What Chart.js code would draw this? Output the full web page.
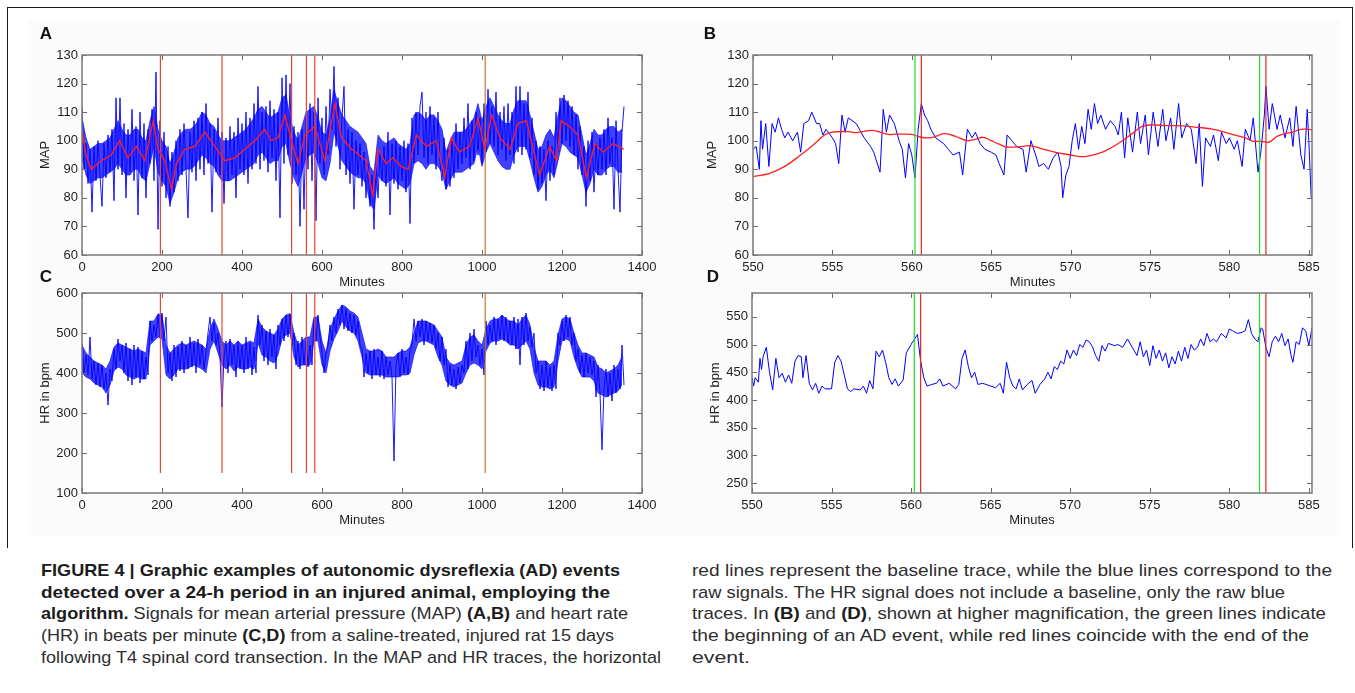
<!DOCTYPE html>
<html>
<head>
<meta charset="utf-8">
<script src="https://cdn.jsdelivr.net/npm/chart.js@4"></script>
<style>
  html, body { margin:0; padding:0; background:#fff; }
  body { width:1355px; height:693px; position:relative; overflow:hidden; }
  #frame { position:absolute; left:7px; top:7px; width:1344px; height:540px; border:1.5px solid #1a1a1a; border-bottom:none; }
  #tint { position:absolute; left:28px; top:20px; width:1312px; height:516px; background:#fbfbfb; }
  canvas { position:absolute; }
  .plab { position:absolute; font-family:'Liberation Sans', Arial, sans-serif; font-weight:bold; font-size:17px; color:#111; transform:translate(-50%,-50%); }
  .ln { position:absolute; white-space:nowrap; font-family:'Liberation Sans Narrow','Liberation Sans',Arial,sans-serif; font-size:17px; line-height:22px; color:#2e2e2e; transform-origin:0 50%; }
  .ln b { color:#1c1c1c; }
</style>
</head>
<body>
<div id="tint"></div>
<div id="frame"></div>
<canvas id="cA"></canvas>
<canvas id="cB"></canvas>
<canvas id="cC"></canvas>
<canvas id="cD"></canvas>
<div class="plab" style="left:46px;top:34px">A</div>
<div class="plab" style="left:710px;top:34px">B</div>
<div class="plab" style="left:46px;top:277px">C</div>
<div class="plab" style="left:713px;top:277px">D</div>

<div class="ln" style="left:41px;top:560px" data-w="579"><b>FIGURE 4 | Graphic examples of autonomic dysreflexia (AD) events</b></div>
<div class="ln" style="left:41px;top:582px" data-w="569"><b>detected over a 24-h period in an injured animal, employing the</b></div>
<div class="ln" style="left:41px;top:603px" data-w="587"><b>algorithm.</b> Signals for mean arterial pressure (MAP) <b>(A,B)</b> and heart rate</div>
<div class="ln" style="left:41px;top:625px" data-w="573">(HR) in beats per minute <b>(C,D)</b> from a saline-treated, injured rat 15 days</div>
<div class="ln" style="left:41px;top:647px" data-w="620">following T4 spinal cord transection. In the MAP and HR traces, the horizontal</div>
<div class="ln" style="left:692px;top:560px" data-w="640">red lines represent the baseline trace, while the blue lines correspond to the</div>
<div class="ln" style="left:692px;top:582px" data-w="593">raw signals. The HR signal does not include a baseline, only the raw blue</div>
<div class="ln" style="left:692px;top:603px" data-w="634">traces. In <b>(B)</b> and <b>(D)</b>, shown at higher magnification, the green lines indicate</div>
<div class="ln" style="left:692px;top:625px" data-w="617">the beginning of an AD event, while red lines coincide with the end of the</div>
<div class="ln" style="left:692px;top:647px" data-w="58">event.</div>

<script>
// ---------------- DATA ----------------
// Panel A: MAP over 24 h, raw trace sampled every 5 minutes
const aStepMinutes = 5;
const aMap = [
112, 90, 99, 85, 97, 75, 98, 86, 100, 88,
77, 99, 87, 102, 89, 104, 79, 115, 90, 115,
88, 106, 80, 104, 89, 111, 86, 105, 74, 110,
87, 106, 80, 104, 92, 111, 86, 124, 69, 107,
84, 103, 80, 98, 77, 96, 82, 100, 86, 104,
88, 106, 90, 73, 103, 89, 107, 86, 108, 90,
110, 88, 113, 92, 106, 75, 104, 89, 108, 88,
103, 78, 101, 86, 105, 88, 103, 80, 108, 90,
106, 88, 110, 85, 108, 90, 113, 92, 119, 90,
110, 93, 112, 89, 114, 94, 111, 86, 110, 73,
122, 92, 123, 95, 120, 85, 105, 88, 103, 70,
104, 76, 108, 90, 113, 86, 110, 72, 115, 92,
108, 88, 112, 95, 118, 104, 126, 98, 115, 90,
108, 119, 88, 104, 85, 103, 76, 100, 88, 99,
84, 96, 80, 92, 77, 88, 69, 92, 80, 96,
86, 98, 84, 103, 74, 99, 85, 100, 83, 98,
86, 100, 82, 99, 71, 108, 92, 110, 95, 112,
117, 94, 110, 92, 112, 95, 108, 90, 110, 92,
86, 101, 83, 97, 84, 100, 87, 106, 90, 103,
92, 108, 94, 113, 90, 107, 93, 110, 95, 108,
92, 113, 96, 118, 99, 112, 98, 117, 95, 110,
97, 112, 93, 113, 95, 110, 92, 119, 96, 119,
95, 113, 97, 117, 94, 108, 88, 100, 83, 98,
85, 97, 79, 100, 86, 98, 88, 110, 96, 115,
99, 116, 100, 114, 98, 112, 95, 109, 90, 105,
88, 98, 77, 100, 86, 103, 82, 99, 88, 101,
90, 104, 88, 108, 92, 101, 76, 107, 90, 75,
103, 112
];
// Panel A: dense core of the raw trace (upper / lower edge), every 10 minutes
const aBandStepMinutes = 10;
const aBandHi = [
108,101,97,98,99,99,100,101,104,107,
104,102,102,104,104,101,100,107,112,104,
100,98,92,96,101,103,104,104,105,107,
110,109,106,105,102,100,100,100,101,102,
103,104,106,108,111,112,110,108,109,110,
115,116,108,103,100,105,110,111,112,108,
103,102,108,118,113,109,107,105,104,103,
101,99,91,89,102,100,99,100,101,99,
98,97,99,109,110,109,107,109,109,107,
104,96,100,103,103,103,104,106,108,113,
107,112,115,112,109,107,106,106,111,114,
114,114,109,103,97,98,102,104,101,109,
115,114,112,110,109,102,95,99,104,102,
102,104,105,105,103,104
];
const aBandLo = [
94,88,85,86,87,87,88,89,90,92,
90,88,88,90,90,87,86,92,98,89,
86,84,78,82,87,89,90,90,91,93,
95,94,92,91,88,86,86,86,87,88,
89,90,91,92,95,96,94,92,93,93,
98,99,92,87,84,89,94,95,96,92,
87,86,92,103,98,93,91,89,88,87,
87,85,78,76,88,86,85,86,87,85,
84,83,85,92,93,92,90,92,92,91,
89,83,86,89,89,89,90,91,92,98,
91,96,99,96,93,91,90,90,95,98,
98,98,93,87,82,84,88,90,87,93,
99,98,96,95,94,88,82,85,90,88,
88,90,91,91,89,89
];
// Panel A: baseline (red) trace
const aBaseMinutes = [0,10,23,48,73,94,115,136,157,178,190,207,224,236,257,282,307,332,357,382,407,432,457,473,490,507,524,540,557,582,607,632,649,674,693,710,727,740,760,777,798,815,836,861,886,907,923,944,969,990,1007,1024,1045,1070,1090,1111,1128,1144,1169,1186,1198,1219,1240,1261,1282,1303,1328,1355];
const aBaseMap = [104,95,90,93,95,100,94,98,93,107,97,93,83,92,97,98,103,98,93,94,97,100,104,100,101,109,100,92,102,105,93,113,101,97,95,93,81,97,92,94,91,90,102,98,100,87,101,96,98,108,97,109,101,97,106,107,97,88,98,93,107,105,102,87,99,96,99,97];

// Panel C: HR over 24 h, raw trace sampled every 5 minutes
const cStepMinutes = 5;
const cHr = [
475, 400, 445, 395, 490, 385, 430, 370, 425, 365,
420, 360, 400, 320, 410, 380, 460, 410, 485, 430,
470, 400, 475, 380, 460, 370, 470, 390, 465, 375,
455, 385, 440, 395, 530, 480, 520, 490, 545, 490,
550, 480, 540, 400, 450, 380, 470, 390, 465, 405,
480, 400, 470, 410, 490, 415, 475, 400, 485, 420,
470, 410, 450, 500, 540, 480, 525, 470, 500, 440,
315, 440, 480, 400, 485, 420, 470, 390, 480, 410,
470, 400, 490, 410, 475, 395, 465, 400, 545, 470,
520, 430, 505, 420, 510, 440, 495, 410, 520, 470,
535, 480, 545, 490, 548, 470, 500, 420, 480, 410,
490, 420, 480, 415, 470, 420, 535, 480, 545, 490,
450, 400, 450, 470, 520, 480, 540, 500, 560, 520,
570, 510, 560, 505, 550, 500, 545, 495, 530, 470,
460, 390, 450, 400, 455, 385, 460, 395, 440, 390,
455, 385, 440, 395, 430, 390, 180, 420, 450, 390,
460, 400, 440, 395, 455, 470, 535, 480, 530, 490,
535, 470, 530, 480, 525, 475, 520, 460, 500, 430,
490, 420, 460, 365, 420, 370, 410, 360, 415, 375,
420, 400, 480, 410, 500, 430, 510, 440, 470, 420,
460, 395, 530, 470, 520, 480, 540, 470, 535, 485,
545, 480, 540, 475, 530, 470, 540, 460, 535, 420,
540, 470, 550, 480, 515, 465, 500, 400, 430, 360,
420, 355, 430, 365, 415, 355, 420, 360, 500, 470,
530, 480, 545, 490, 540, 470, 500, 430, 460, 400,
445, 390, 450, 400, 440, 395, 430, 340, 420, 350,
208, 360, 410, 340, 400, 330, 420, 350, 410, 360,
470, 370
];
// Panel C: dense core of the HR trace, every 10 minutes
const cBandStepMinutes = 10;
const cBandHi = [
470,450,440,430,425,420,410,430,465,475,
470,465,460,455,460,455,450,530,530,548,
545,470,450,460,470,475,470,475,480,475,
470,460,510,535,510,480,470,480,470,480,
470,475,480,475,535,515,505,500,495,510,
535,545,548,500,470,480,490,490,540,540,
480,450,510,535,555,570,565,555,550,540,
500,460,455,455,460,455,440,440,440,450,
455,455,465,500,530,530,530,525,520,505,
490,440,425,420,425,430,470,490,495,480,
470,510,530,535,535,545,535,530,530,520,
535,545,520,465,430,430,430,420,430,495,
535,540,535,500,470,450,450,445,440,415,
410,400,405,410,420,440
];
const cBandLo = [
400,390,385,375,370,365,350,370,405,415,
410,395,390,385,390,385,385,470,480,490,
485,395,385,395,410,410,410,415,420,415,
410,400,460,480,450,420,410,420,405,415,
410,410,415,410,475,445,440,430,425,445,
485,495,500,440,415,420,420,420,480,480,
420,400,455,485,505,530,515,505,500,480,
440,400,395,395,395,395,390,390,390,390,
395,395,400,445,475,480,480,475,470,440,
420,380,370,365,370,375,400,420,425,420,
410,455,475,480,480,485,480,470,470,460,
470,480,460,400,370,365,365,360,365,430,
480,485,480,440,410,390,390,390,380,350,
345,340,345,350,355,370
];

// AD event markers on the 24-h traces (minutes)
const eventMinutes = [196, 350, 524, 561, 582, 1008];
const eventSpanMap = [60, 130];
const eventSpanHr = [150, 600];

// Panel B: MAP, 550-585 min
const bMinutes = [
550.0,550.2,550.4,550.5,550.6,550.8,551.0,551.2,551.4,551.6,
551.8,552.0,552.2,552.5,552.8,553.0,553.2,553.5,553.7,554.0,
554.2,554.4,554.6,555.0,555.2,555.4,555.6,555.8,556.0,556.5,
557.0,557.4,557.6,558.0,558.2,558.4,558.6,558.9,559.2,559.4,
559.6,559.8,560.0,560.2,560.4,560.6,560.8,561.0,561.2,561.5,
562.0,562.3,562.6,563.0,563.2,563.5,563.8,564.0,564.3,564.6,
565.0,565.3,565.5,565.8,566.0,566.3,566.6,567.0,567.2,567.5,
567.8,568.0,568.3,568.6,568.9,569.2,569.4,569.5,569.7,569.9,
570.1,570.3,570.5,570.7,570.9,571.1,571.3,571.5,571.7,571.9,
572.2,572.5,572.8,573.0,573.2,573.4,573.6,573.9,574.2,574.4,
574.7,574.9,575.2,575.5,575.8,576.0,576.3,576.5,576.8,577.0,
577.3,577.6,577.9,578.1,578.3,578.5,578.8,579.0,579.3,579.5,
579.8,580.0,580.3,580.5,580.8,581.0,581.3,581.5,581.8,582.0,
582.2,582.3,582.5,582.7,583.0,583.2,583.5,583.8,584.0,584.2,
584.5,584.7,584.9,585.0,585.15
];
const bMap = [
97,98,90,107,97,106,91,106,103,108,
104,101,103,100,103,96,106,107,110,106,
106,102,104,101,99,92,109,103,108,106,
101,98,96,89,111,103,109,106,100,97,
87,99,95,87,104,113,109,107,104,101,
99,97,95,96,88,104,101,103,99,97,
96,95,92,88,102,100,98,97,89,100,
95,91,92,90,94,96,91,80,88,91,
100,106,97,105,99,111,104,113,106,109,
104,107,105,102,110,94,108,96,110,99,
109,95,110,98,111,100,108,97,113,101,
106,104,92,106,84,101,98,102,93,103,
99,101,97,100,91,104,100,108,89,97,
109,119,104,113,104,109,101,108,98,112,
95,90,111,100,80
];
const bBaseMinutes = [550,551,552,553,554,554.5,555,556,556.5,557,557.5,558,558.5,559,560,560.5,561,561.5,562,562.5,563,563.5,564,564.5,565,565.5,566,567,567.5,568,569,570,570.5,571,572,573,574,574.5,575,576,577,578,579,580,581,581.5,582,582.5,583,583.5,584,584.5,585,585.2];
const bBaseMap = [87.5,88.5,91,95,99.5,102,103,103.2,102.8,103.3,103.6,103,102.2,102.3,102.2,101.3,101,101.5,102.5,102,101,100,100.5,101.2,100,98.8,97.8,98,98.3,97.5,96,95,94.5,94.5,96,99,103,105,105.5,105.3,105.2,104.7,104,102.5,101,99.8,99.8,99.5,101.5,102.5,103,104,104,103.8];

// Panel D: HR, 550-585 min
const dMinutes = [
550.0,550.1,550.2,550.4,550.5,550.6,550.7,550.9,551.1,551.3,
551.5,551.7,551.9,552.1,552.3,552.5,552.7,552.9,553.1,553.2,
553.4,553.6,553.8,554.0,554.2,554.4,554.6,555.0,555.2,555.4,
555.6,555.8,556.0,556.2,556.4,556.8,557.0,557.2,557.4,557.6,
557.8,558.0,558.2,558.4,558.6,558.8,559.0,559.2,559.5,559.7,
560.0,560.1,560.4,560.6,560.8,561.0,561.3,561.6,561.8,562.0,
562.4,562.8,563.0,563.2,563.4,563.6,563.8,564.0,564.2,564.5,
565.0,565.3,565.6,565.8,566.0,566.2,566.4,566.6,566.8,567.0,
567.3,567.6,567.8,568.1,568.4,568.6,568.8,569.0,569.2,569.4,
569.6,569.8,570.0,570.2,570.4,570.6,570.8,571.0,571.2,571.4,
571.6,571.8,572.0,572.2,572.4,572.8,573.0,573.3,573.6,573.9,
574.2,574.4,574.6,574.8,575.0,575.2,575.4,575.6,575.8,576.0,
576.2,576.4,576.6,576.8,577.0,577.2,577.4,577.6,577.8,578.0,
578.2,578.4,578.6,578.8,579.0,579.2,579.5,579.8,580.0,580.2,
580.5,580.8,581.0,581.2,581.4,581.6,581.8,582.0,582.1,582.3,
582.5,582.7,582.9,583.1,583.3,583.5,583.7,583.9,584.0,584.2,
584.4,584.6,584.8,585.0,585.2
];
const dHr = [
440,425,440,432,475,455,478,495,450,418,
475,440,448,432,445,430,470,480,478,440,
480,430,418,430,412,425,420,420,468,480,
470,445,420,415,420,418,425,412,435,420,
488,478,490,468,440,428,438,425,436,485,
500,505,518,470,440,425,428,430,438,425,
430,420,428,475,490,460,440,450,428,430,
425,422,430,412,468,440,425,420,438,418,
428,435,412,428,438,450,438,460,455,470,
465,490,475,490,480,500,495,508,505,496,
480,470,498,488,502,498,500,495,510,495,
480,505,478,490,462,498,475,490,470,485,
458,478,465,488,470,495,475,500,490,495,
510,498,520,505,510,505,520,512,528,525,
520,522,525,545,520,510,505,530,528,495,
478,505,515,505,520,498,510,478,468,505,
500,530,525,498,530
];
// AD onset (green) and end (red) in the zoomed panels
const onsetMinutes = [560.2, 581.9];
const endMinutes = [560.6, 582.3];

// Axis ranges and tick labels
const longXRange = [0, 1400];
const longXTicks = [0, 200, 400, 600, 800, 1000, 1200, 1400];
const zoomXRange = [550, 585.2];
const zoomXTicks = [550, 555, 560, 565, 570, 575, 580, 585];
const mapRange = [60, 130];
const mapTicks = [60, 70, 80, 90, 100, 110, 120, 130];
const hrLongRange = [100, 600];
const hrLongTicks = [100, 200, 300, 400, 500, 600];
const hrZoomRange = [232, 593];
const hrZoomTicks = [250, 300, 350, 400, 450, 500, 550];

// ---------------- STYLE ----------------
const BLUE = 'rgb(0,0,255)';
const BAND = 'rgba(10,10,255,0.78)';
const BASE_RED = '#ff1f1f';
const EVENT_COLORS = ['#e5482c', '#e5482c', '#e5482c', '#e5482c', '#e5482c', '#c47a30'];
const GREEN = '#22dd22';
const END_RED = '#ee2222';
const FONT = "'Liberation Sans', Arial, Helvetica, sans-serif";
Chart.defaults.font.family = FONT;
Chart.defaults.color = '#1e1e1e';

const matlabBox = {
  id: 'matlabBox',
  beforeDraw(chart) {
    const {ctx, chartArea: a} = chart;
    ctx.save();
    ctx.fillStyle = '#ffffff';
    ctx.fillRect(a.left, a.top, a.right - a.left, a.bottom - a.top);
    ctx.restore();
  },
  afterDatasetsDraw(chart) {
    const {ctx, chartArea: a, scales: {x, y}} = chart;
    ctx.save();
    ctx.strokeStyle = '#6a6a6a';
    ctx.lineWidth = 1;
    ctx.beginPath();
    x.ticks.forEach(t => {
      const px = Math.round(x.getPixelForValue(t.value)) + 0.5;
      ctx.moveTo(px, a.bottom); ctx.lineTo(px, a.bottom - 5);
      ctx.moveTo(px, a.top); ctx.lineTo(px, a.top + 5);
    });
    y.ticks.forEach(t => {
      const py = Math.round(y.getPixelForValue(t.value)) + 0.5;
      ctx.moveTo(a.left, py); ctx.lineTo(a.left + 5, py);
      ctx.moveTo(a.right, py); ctx.lineTo(a.right - 5, py);
    });
    ctx.stroke();
    ctx.strokeStyle = '#7a7a7a';
    ctx.lineWidth = 1.5;
    ctx.strokeRect(a.left, a.top, a.right - a.left, a.bottom - a.top);
    ctx.restore();
  }
};

function pts(xs, ys) { return xs.map((v, i) => ({x: v, y: ys[i]})); }
function stepPts(step, ys) { return ys.map((v, i) => ({x: i * step, y: v})); }
function vline(xv, span, color, order) {
  return {data: [{x: xv, y: span[0]}, {x: xv, y: span[1]}], borderColor: color, borderWidth: 1.2, order};
}
function band(step, hi, lo) {
  return [
    {data: stepPts(step, hi), borderColor: BAND, backgroundColor: BAND, borderWidth: 0.8, fill: '+1', order: 3},
    {data: stepPts(step, lo), borderColor: BAND, borderWidth: 0.8, fill: false, order: 3}
  ];
}

function makePanel(id, box, area, xr, xt, yr, yt, yTitle, xTitlePad, yTitlePad, datasets) {
  const cv = document.getElementById(id);
  cv.width = box.w; cv.height = box.h;
  cv.style.left = box.left + 'px'; cv.style.top = box.top + 'px';
  cv.style.width = box.w + 'px'; cv.style.height = box.h + 'px';
  const yW = area.left - box.left;
  const xH = box.top + box.h - area.bottom;
  new Chart(cv, {
    type: 'line',
    data: {datasets},
    options: {
      responsive: false, animation: false, devicePixelRatio: 1,
      layout: {padding: {left: 0, top: area.top - box.top, right: box.left + box.w - area.right, bottom: 0}},
      plugins: {legend: {display: false}, tooltip: {enabled: false}},
      elements: {point: {radius: 0}, line: {borderWidth: 1, tension: 0}},
      scales: {
        x: {
          type: 'linear', min: xr[0], max: xr[1],
          grid: {display: false, drawTicks: false}, border: {display: false},
          ticks: {padding: 5, font: {size: 13}, maxRotation: 0, autoSkip: false, color: '#1e1e1e', callback: v => String(v)},
          afterBuildTicks: s => { s.ticks = xt.map(v => ({value: v})); },
          afterFit: s => { s.height = xH; },
          title: {display: true, text: 'Minutes', font: {size: 13, lineHeight: 1.2}, color: '#1e1e1e', padding: {top: 0, bottom: xTitlePad}}
        },
        y: {
          type: 'linear', min: yr[0], max: yr[1],
          grid: {display: false, drawTicks: false}, border: {display: false},
          ticks: {padding: 4, font: {size: 13}, autoSkip: false, color: '#1e1e1e', callback: v => String(v)},
          afterBuildTicks: s => { s.ticks = yt.map(v => ({value: v})); },
          afterFit: s => { s.width = yW; },
          title: {display: true, text: yTitle, font: {size: 13, lineHeight: 1.2}, color: '#1e1e1e', padding: {top: yTitlePad, bottom: 0}}
        }
      }
    },
    plugins: [matlabBox]
  });
}

// Panel A
makePanel('cA', {left: 30, top: 38, w: 645, h: 264}, {left: 82, top: 55, right: 642, bottom: 255},
  longXRange, longXTicks, mapRange, mapTicks, 'MAP', 12.2, 7.2, [
    {data: pts(aBaseMinutes, aBaseMap), borderColor: BASE_RED, borderWidth: 1.3, order: 0},
    ...eventMinutes.map((m, i) => vline(m, eventSpanMap, EVENT_COLORS[i], 1)),
    {data: stepPts(aStepMinutes, aMap), borderColor: BLUE, borderWidth: 0.9, order: 2},
    ...band(aBandStepMinutes, aBandHi, aBandLo)
  ]);

// Panel B
makePanel('cB', {left: 700, top: 38, w: 640, h: 264}, {left: 753, top: 55, right: 1312, bottom: 255},
  zoomXRange, zoomXTicks, mapRange, mapTicks, 'MAP', 12.2, 4.7, [
    ...onsetMinutes.map(m => vline(m, mapRange, GREEN, 0)),
    ...endMinutes.map(m => vline(m, mapRange, END_RED, 0)),
    {data: pts(bBaseMinutes, bBaseMap), borderColor: BASE_RED, borderWidth: 1.3, tension: 0.4, order: 1},
    {data: pts(bMinutes, bMap), borderColor: BLUE, borderWidth: 1, order: 2}
  ]);

// Panel C
makePanel('cC', {left: 30, top: 276, w: 645, h: 254}, {left: 82, top: 293, right: 642, bottom: 493},
  longXRange, longXTicks, hrLongRange, hrLongTicks, 'HR in bpm', 2.2, 7.7, [
    ...eventMinutes.map((m, i) => vline(m, eventSpanHr, EVENT_COLORS[i], 1)),
    {data: stepPts(cStepMinutes, cHr), borderColor: BLUE, borderWidth: 0.9, order: 2},
    ...band(cBandStepMinutes, cBandHi, cBandLo)
  ]);

// Panel D
makePanel('cD', {left: 700, top: 276, w: 640, h: 254}, {left: 752, top: 293, right: 1312, bottom: 493},
  zoomXRange, zoomXTicks, hrZoomRange, hrZoomTicks, 'HR in bpm', 2.2, 7.2, [
    ...onsetMinutes.map(m => vline(m, hrZoomRange, GREEN, 0)),
    ...endMinutes.map(m => vline(m, hrZoomRange, END_RED, 0)),
    {data: pts(dMinutes, dHr), borderColor: BLUE, borderWidth: 1, order: 2}
  ]);

// Fit caption lines to the reference line lengths
function fitCaption() {
  document.querySelectorAll('.ln').forEach(el => {
    el.style.transform = 'none';
    const w0 = el.getBoundingClientRect().width;
    const target = parseFloat(el.dataset.w);
    if (w0 > 0 && target) el.style.transform = 'scaleX(' + (target / w0) + ')';
  });
}
fitCaption();
if (document.fonts && document.fonts.ready) document.fonts.ready.then(fitCaption);
</script>
</body>
</html>
